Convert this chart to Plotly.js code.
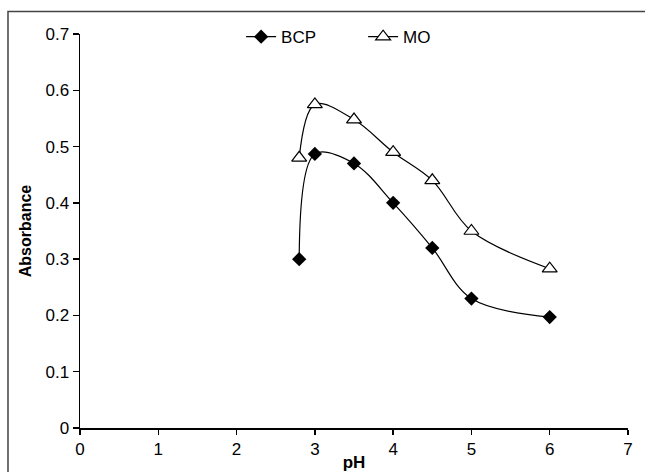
<!DOCTYPE html>
<html>
<head>
<meta charset="utf-8">
<script src="https://cdn.plot.ly/plotly-3.0.1.min.js"></script>
<style>html,body{margin:0;padding:0;background:#fff;} #chart{width:645px;height:472px;}</style>
</head>
<body>
<div id="chart"></div>
<script>
var pH = [2.8, 3, 3.5, 4, 4.5, 5, 6];
var bcp = [0.30, 0.487, 0.47, 0.40, 0.32, 0.23, 0.197];
var mo = [0.48, 0.575, 0.548, 0.49, 0.44, 0.35, 0.283];
var xTicks = [0, 1, 2, 3, 4, 5, 6, 7];
var yTicks = [0, 0.1, 0.2, 0.3, 0.4, 0.5, 0.6, 0.7];

var font = 'Liberation Sans, Arial, sans-serif';
var traces = [
  {x: pH, y: bcp, name: 'BCP', mode: 'lines+markers', type: 'scatter',
   line: {color: '#000', width: 1.2, shape: 'spline', smoothing: 1},
   marker: {symbol: 'diamond', size: 11, color: '#000'}},
  {x: pH, y: mo, name: 'MO', mode: 'lines+markers', type: 'scatter',
   line: {color: '#000', width: 1.2, shape: 'spline', smoothing: 1},
   marker: {symbol: 'triangle-up', size: 13, color: '#fff', line: {color: '#000', width: 1.2}}}
];
var layout = {
  width: 645, height: 472,
  margin: {l: 80, r: 17, t: 34, b: 44},
  paper_bgcolor: '#fff', plot_bgcolor: '#fff',
  font: {family: font, size: 17, color: '#000'},
  showlegend: true,
  legend: {orientation: 'h', x: 0.294, y: 0.992, xanchor: 'left', yanchor: 'middle', entrywidth: 77,
           font: {family: font, size: 17, color: '#000'}, bgcolor: 'rgba(0,0,0,0)', itemwidth: 30},
  xaxis: {range: [0, 7], tickvals: xTicks, ticktext: xTicks.map(String), showgrid: false, zeroline: false,
          showline: true, linecolor: '#000', linewidth: 1.5, ticks: 'outside', ticklen: 5, tickcolor: '#000', tickwidth: 1.5,
          tickfont: {family: font, size: 17},
          title: {text: '<b>pH</b>', font: {family: font, size: 17}, standoff: 6}, automargin: false},
  yaxis: {range: [0, 0.7], tickvals: yTicks, ticktext: yTicks.map(function(v){return v===0?'0':v.toFixed(1);}),
          showgrid: false, zeroline: false,
          showline: true, linecolor: '#000', linewidth: 1.5, ticks: 'outside', ticklen: 6, tickcolor: '#000', tickwidth: 1.5,
          tickfont: {family: font, size: 17},
          title: {text: '<b>Absorbance</b>', font: {family: font, size: 16}, standoff: 10}, automargin: false},
  shapes: [
    {type: 'path', xref: 'paper', yref: 'paper', path: 'M -0.1314 -0.3 L -0.1314 1.057 L 1.2 1.057',
     line: {color: '#444', width: 1.5}}
  ]
};
Plotly.newPlot('chart', traces, layout, {staticPlot: true, displayModeBar: false});
</script>
</body>
</html>
